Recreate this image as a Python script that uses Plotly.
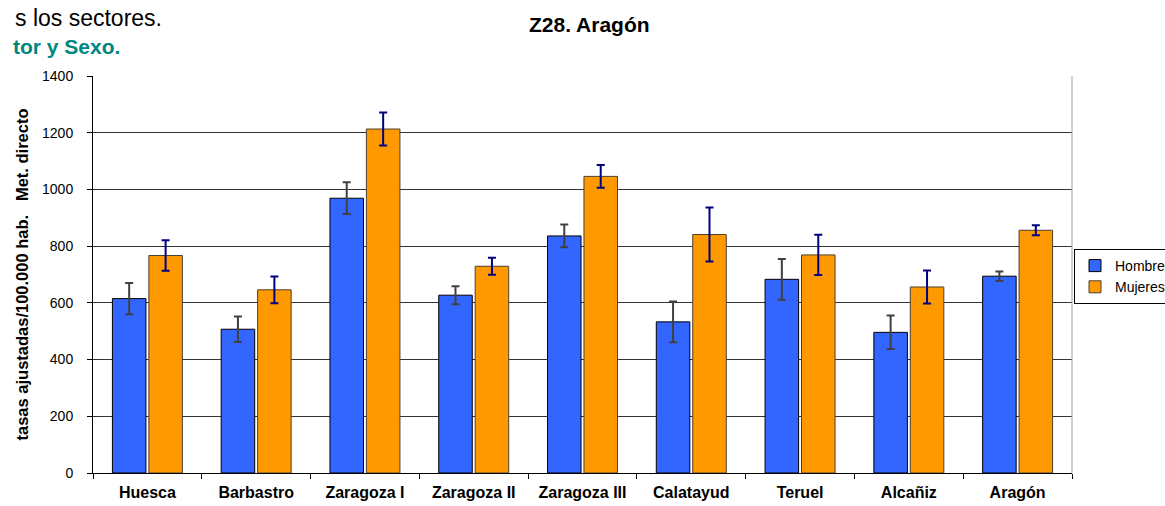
import plotly.graph_objects as go

categories = ["Huesca", "Barbastro", "Zaragoza I", "Zaragoza II", "Zaragoza III",
              "Calatayud", "Teruel", "Alcañiz", "Aragón"]
hombres = [615, 507, 969, 627, 836, 533, 683, 496, 694]
hombres_err = [55, 45, 56, 32, 40, 72, 72, 59, 17]
mujeres = [767, 646, 1213, 729, 1046, 841, 769, 656, 856]
mujeres_err = [54, 47, 58, 30, 40, 95, 71, 58, 18]
y_ticks = [0, 200, 400, 600, 800, 1000, 1200, 1400]

FONT = "Liberation Sans, Arial, sans-serif"

fig = go.Figure()
fig.add_trace(go.Bar(
    name="Hombre", x=categories, y=hombres,
    marker=dict(color="#3366FF", line=dict(color="#000000", width=1)),
    error_y=dict(type="data", array=hombres_err, visible=True,
                 color="#404040", thickness=2, width=4),
))
fig.add_trace(go.Bar(
    name="Mujeres", x=categories, y=mujeres,
    marker=dict(color="#FF9900", line=dict(color="#4a4030", width=1)),
    error_y=dict(type="data", array=mujeres_err, visible=True,
                 color="#000080", thickness=2, width=4),
))

L, R, T, B = 93, 93, 76, 33
W, H = 1165, 506
pw = W - L - R
ph = H - T - B

def px(x):
    return (x - L) / pw

def py(y):
    return (H - B - y) / ph

fig.update_layout(
    width=W, height=H,
    margin=dict(l=L, r=R, t=T, b=B, autoexpand=False),
    paper_bgcolor="white", plot_bgcolor="white",
    barmode="group", bargap=0.33, bargroupgap=0.08,
    font=dict(family=FONT, color="black"),
    showlegend=True,
    legend=dict(x=px(1074), y=py(249), xanchor="left", yanchor="top",
                bordercolor="black", borderwidth=1, bgcolor="white",
                font=dict(size=14, family=FONT, color="black"),
                tracegroupgap=0, itemwidth=30),
    xaxis=dict(
        tickson="boundaries", ticks="outside", ticklen=5, tickcolor="black",
        showline=True, linecolor="black", linewidth=1,
        tickfont=dict(size=16, family=FONT, color="black", weight="bold"),
        ticklabelstandoff=5,
        showgrid=False,
    ),
    yaxis=dict(
        range=[0, 1400], tickvals=y_ticks, ticks="outside", ticklen=5,
        tickcolor="black", showline=True, linecolor="black", linewidth=1,
        showgrid=True, gridcolor="#333333", gridwidth=1,
        tickfont=dict(size=14, family=FONT, color="black"),
        ticklabelstandoff=11,
        title=dict(text="tasas ajustadas/100.000 hab.\u00a0\u00a0\u00a0Met. directo",
                   font=dict(size=16.5, family=FONT, color="black", weight="bold"),
                   standoff=9),
        zeroline=False,
    ),
    shapes=[dict(type="line", xref="paper", yref="paper", x0=1, x1=1, y0=0, y1=1,
                 line=dict(color="#A0A0A0", width=1))],
    annotations=[
        dict(text="s los sectores.", xref="paper", yref="paper", x=px(164), y=py(18),
             xanchor="right", yanchor="middle", showarrow=False,
             font=dict(size=23, family=FONT, color="black")),
        dict(text="<b>tor y Sexo.</b>", xref="paper", yref="paper", x=px(122), y=py(47),
             xanchor="right", yanchor="middle", showarrow=False,
             font=dict(size=21, family=FONT, color="#00877F")),
        dict(text="<b>Z28. Aragón</b>", xref="paper", yref="paper", x=px(589), y=py(25),
             xanchor="center", yanchor="middle", showarrow=False,
             font=dict(size=21, family=FONT, color="black")),
    ],
)

fig.write_html("out.html",
               config={"displayModeBar": False},
               post_script="document.body.style.margin='0';document.body.style.overflow='hidden';")
